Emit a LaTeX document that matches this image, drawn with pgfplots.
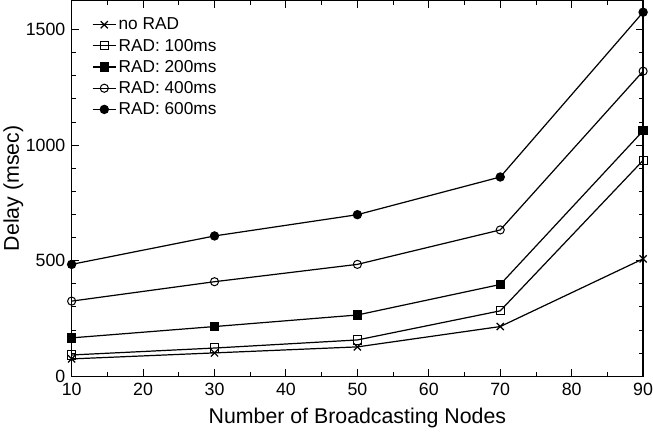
\documentclass[border=0pt]{standalone}
\usepackage{pgfplots}
\pgfplotsset{compat=1.18}
\usepackage{fontspec}
\setmainfont{Liberation Sans}
\begin{document}
\begin{tikzpicture}
\begin{axis}[
	scale only axis,
	width=563pt,
	height=370pt,
	xmin=10, xmax=90,
	ymin=0, ymax=1625,
	xtick={10,20,...,90},
	ytick={0,500,1000,1500},
	minor x tick num=1,
	minor y tick num=4,
	tick align=inside,
	major tick length=7pt,
	minor tick length=4pt,
	axis line style={line width=1.3pt},
	every tick/.style={line width=0.9pt,black},
	/pgf/number format/assume math mode=true,
	/pgf/number format/1000 sep={},
	tick label style={font=\fontsize{17.5}{20}\selectfont, inner sep=0pt},
	xticklabel style={yshift=-7pt},
	yticklabel style={xshift=-6pt},
	label style={font=\fontsize{21}{24}\selectfont},
	xlabel={Number of Broadcasting Nodes},
	ylabel={Delay (msec)},
	xlabel style={yshift=-8pt},
	ylabel style={yshift=-1pt},
	legend style={at={(0.03,0.965)}, anchor=north west, draw=none, fill=none,
		font=\fontsize{17}{21}\selectfont, row sep=3.5pt,
		nodes={inner sep=2pt}},
	legend cell align=left,
	legend image code/.code={%
		\draw[mark repeat=2,mark phase=2] plot coordinates {(0pt,0pt) (11.5pt,0pt) (23pt,0pt)};},
	every axis plot/.append style={black, line width=1.2pt, mark size=4pt},
]
\addplot[mark=x, mark size=5pt] coordinates {(10,75) (30,101) (50,127) (70,215) (90,508)};
\addlegendentry{no RAD}
\addplot[mark=square, mark options={line width=1pt}] coordinates {(10,92) (30,122) (50,157) (70,283) (90,934)};
\addlegendentry{RAD: 100ms}
\addplot[mark=square*] coordinates {(10,166) (30,215) (50,265) (70,397) (90,1062)};
\addlegendentry{RAD: 200ms}
\addplot[mark=o, mark options={line width=1pt}] coordinates {(10,325) (30,409) (50,484) (70,633) (90,1320)};
\addlegendentry{RAD: 400ms}
\addplot[mark=*] coordinates {(10,484) (30,607) (50,699) (70,862) (90,1575)};
\addlegendentry{RAD: 600ms}
\end{axis}
\end{tikzpicture}
\end{document}
